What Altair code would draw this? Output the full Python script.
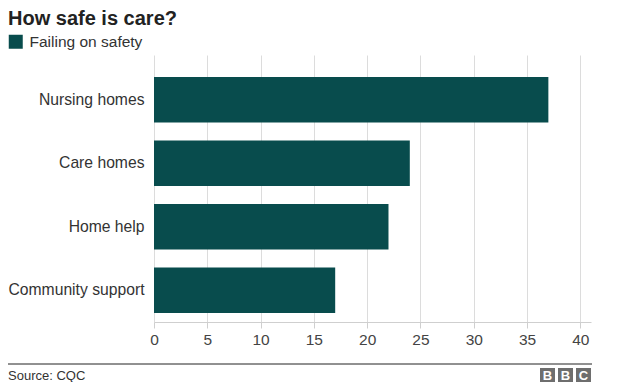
import altair as alt
import pandas as pd

categories = ["Nursing homes", "Care homes", "Home help", "Community support"]
values = [37, 24, 22, 17]
series_name = "Failing on safety"
x_ticks = [0, 5, 10, 15, 20, 25, 30, 35, 40]
title_text = "How safe is care?"
source_text = "Source: CQC"

BAR = "#084c4d"
FONT = "Liberation Sans"

df = pd.DataFrame({"category": categories, "value": values, "series": [series_name] * len(categories)})

bars = alt.Chart(df).mark_bar(color=BAR).encode(
    x=alt.X("value:Q",
            scale=alt.Scale(domain=[0, 41], nice=False, zero=True),
            axis=alt.Axis(title=None, values=x_ticks, grid=True, gridColor="#dcdcdc",
                          domainColor="#cfcfcf", tickColor="#cfcfcf", tickSize=6,
                          labelFontSize=15.5, labelColor="#444", labelPadding=4,
                          labelFlush=False, labelFont=FONT)),
    y=alt.Y("category:N", sort=categories,
            scale=alt.Scale(paddingInner=0.283, paddingOuter=0.244, align=0.71),
            axis=alt.Axis(title=None, ticks=False, domain=False, labelFontSize=15.7,
                          labelColor="#333", labelPadding=10, labelFont=FONT)),
    color=alt.Color("series:N", scale=alt.Scale(range=[BAR]),
                    legend=alt.Legend(title=None, orient="none", legendX=-146, legendY=-21,
                                      symbolType="square", symbolSize=196, symbolStrokeWidth=0,
                                      labelFontSize=15.5, labelColor="#333", labelOffset=6,
                                      labelFont=FONT, padding=0, offset=0)),
)

one = alt.Data(values=[{}])

title = alt.Chart(one).mark_text(align="left", baseline="top", fontSize=20,
                                 fontWeight="bold", color="#222", font=FONT).encode(
    x=alt.value(-146), y=alt.value(-46), text=alt.value(title_text))

rule = alt.Chart(one).mark_rule(color="#222", strokeWidth=1).encode(
    x=alt.value(-146), x2=alt.value(438), y=alt.value(309))

source = alt.Chart(one).mark_text(align="left", baseline="middle", fontSize=13,
                                  color="#333", font=FONT).encode(
    x=alt.value(-146), y=alt.value(320.5), text=alt.value(source_text))

layers = [bars, title, rule, source]
for x0, letter in [(386, "B"), (404, "B"), (422, "C")]:
    layers.append(alt.Chart(one).mark_rect(color="#6e6e6e").encode(
        x=alt.value(x0), x2=alt.value(x0 + 15), y=alt.value(313), y2=alt.value(327)))
    layers.append(alt.Chart(one).mark_text(align="center", baseline="middle", fontSize=13,
                                           fontWeight="bold", color="white", font=FONT).encode(
        x=alt.value(x0 + 7.5), y=alt.value(320.5), text=alt.value(letter)))

chart = alt.layer(*layers).properties(
    width=437, height=267,
    autosize=alt.AutoSizeParams(type="none"),
    padding={"left": 146, "top": 47, "right": 20, "bottom": 60},
    background="white",
).configure_view(stroke=None)

chart.save("out.html", embed_options={"renderer": "svg", "actions": False})
